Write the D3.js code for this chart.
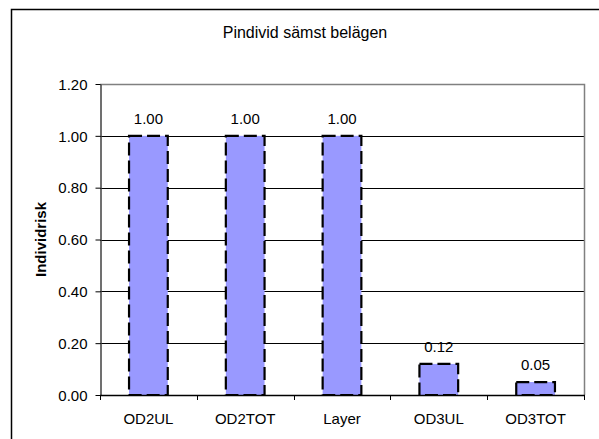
<!DOCTYPE html>
<html>
<head>
<meta charset="utf-8">
<script src="https://cdn.jsdelivr.net/npm/d3@7"></script>
<style>
  html, body { margin: 0; padding: 0; background: #fff; }
  svg { display: block; font-family: "Liberation Sans", Arial, sans-serif; }
</style>
</head>
<body>
<svg id="chart" width="599" height="439"></svg>
<script>
// Data
const categories = ["OD2UL", "OD2TOT", "Layer", "OD3UL", "OD3TOT"];
const values = [1.00, 1.00, 1.00, 0.12, 0.05];
const yTicks = [0, 0.2, 0.4, 0.6, 0.8, 1.0, 1.2];
const titleText = "Pindivid sämst belägen";
const yAxisTitle = "Individrisk";

const svg = d3.select("#chart");
const FONT = "Liberation Sans, Arial, sans-serif";

// Outer chart frame (runs past the right and bottom edges)
svg.append("rect")
  .attr("x", 11.5).attr("y", 9.5)
  .attr("width", 600).attr("height", 440)
  .attr("fill", "#fff").attr("stroke", "#000").attr("stroke-width", 1.5);

const plot = { left: 100, top: 84, right: 584, bottom: 395 };

const x = d3.scaleBand()
  .domain(categories)
  .range([plot.left, plot.right])
  .paddingInner(0.6).paddingOuter(0.3);

const xOuter = d3.scaleBand()
  .domain(categories)
  .range([plot.left, plot.right]);

const y = d3.scaleLinear().domain([0, 1.2]).range([plot.bottom, plot.top]);

// Gridlines
svg.append("g")
  .selectAll("line")
  .data(yTicks.filter(d => d > 0 && d < 1.2))
  .join("line")
  .attr("x1", plot.left).attr("x2", plot.right)
  .attr("y1", d => Math.round(y(d)) + 0.5).attr("y2", d => Math.round(y(d)) + 0.5)
  .attr("stroke", "#000").attr("stroke-width", 1);

// Plot area border (top and right)
svg.append("path")
  .attr("d", `M${plot.left},${plot.top + 0.5}H${plot.right + 0.5}V${plot.bottom}`)
  .attr("fill", "none").attr("stroke", "#808080").attr("stroke-width", 1.5);

// Bars
svg.append("g")
  .selectAll("rect")
  .data(values)
  .join("rect")
  .attr("x", (d, i) => x(categories[i]))
  .attr("y", d => y(d))
  .attr("width", x.bandwidth())
  .attr("height", d => y(0) - y(d))
  .attr("fill", "#9999ff")
  .attr("stroke", "#000")
  .attr("stroke-width", 2.2)
  .attr("stroke-dasharray", "13,5");

// Value labels
svg.append("g")
  .selectAll("text")
  .data(values)
  .join("text")
  .attr("x", (d, i) => x(categories[i]) + x.bandwidth() / 2)
  .attr("y", d => y(d) - 12)
  .attr("text-anchor", "middle")
  .attr("font-size", 15)
  .attr("fill", "#000")
  .text(d => d.toFixed(2));

// Y axis
const yAxis = svg.append("g")
  .attr("transform", `translate(${plot.left + 0.5},0)`)
  .call(d3.axisLeft(y).tickValues(yTicks).tickFormat(d3.format(".2f")).tickSize(5).tickSizeOuter(0));
yAxis.select(".domain").attr("stroke", "#404040").attr("stroke-width", 1.5);
yAxis.selectAll(".tick line").attr("stroke", "#000");
yAxis.selectAll(".tick text")
  .attr("font-size", 15).attr("fill", "#000")
  .attr("font-family", FONT)
  .attr("x", -13).attr("dy", "0.35em");

// X axis
const xAxis = svg.append("g")
  .attr("transform", `translate(0,${plot.bottom})`);
xAxis.append("line")
  .attr("x1", plot.left).attr("x2", plot.right + 1)
  .attr("y1", 0.5).attr("y2", 0.5)
  .attr("stroke", "#000").attr("stroke-width", 1.5);
const boundaries = categories.map(c => xOuter(c)).concat([plot.right]);
xAxis.selectAll("line.tick")
  .data(boundaries)
  .join("line")
  .attr("class", "tick")
  .attr("x1", d => Math.round(d) + 0.5).attr("x2", d => Math.round(d) + 0.5)
  .attr("y1", 0).attr("y2", 5)
  .attr("stroke", "#000");
xAxis.selectAll("text")
  .data(categories)
  .join("text")
  .attr("x", d => xOuter(d) + xOuter.bandwidth() / 2)
  .attr("y", 29)
  .attr("text-anchor", "middle")
  .attr("font-size", 15)
  .attr("fill", "#000")
  .text(d => d);

// Title
svg.append("text")
  .attr("x", 305).attr("y", 38)
  .attr("text-anchor", "middle")
  .attr("font-size", 16)
  .attr("fill", "#000")
  .text(titleText);

// Y axis title
svg.append("text")
  .attr("transform", `translate(46,${(plot.top + plot.bottom) / 2}) rotate(-90)`)
  .attr("text-anchor", "middle")
  .attr("font-size", 15)
  .attr("font-weight", "bold")
  .attr("fill", "#000")
  .text(yAxisTitle);
</script>
</body>
</html>
